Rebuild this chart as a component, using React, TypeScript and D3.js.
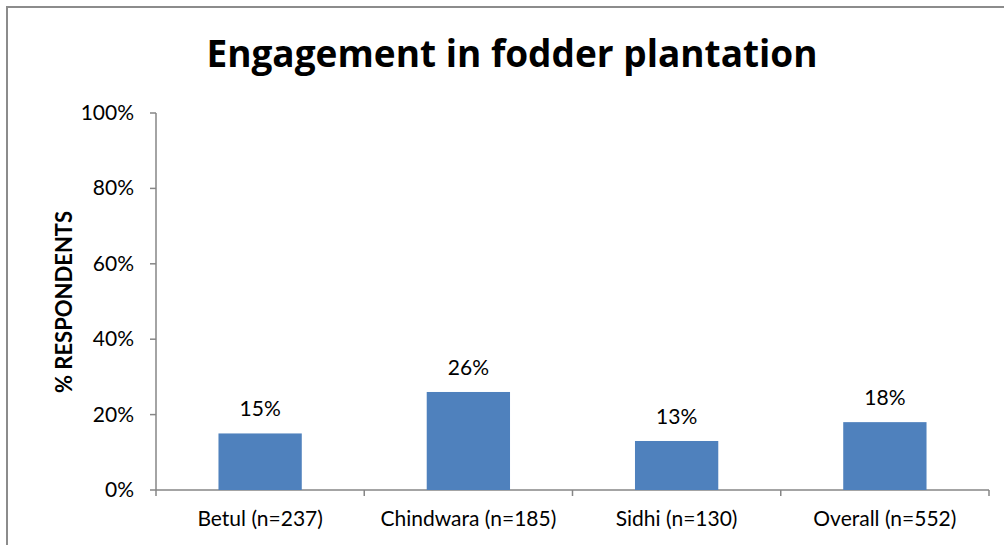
import React from "react";
import * as d3 from "d3";

const categories = ["Betul (n=237)", "Chindwara (n=185)", "Sidhi (n=130)", "Overall (n=552)"];
const values = [0.15, 0.26, 0.13, 0.18];
const valueLabels = ["15%", "26%", "13%", "18%"];
const yTicks = [0, 0.2, 0.4, 0.6, 0.8, 1.0];
const title = "Engagement in fodder plantation";
const yTitle = "% RESPONDENTS";

const W = 1004, H = 545;
const left = 156, right = 989, top = 113, bottom = 490;
const FONT = "Lato, 'Open Sans', sans-serif";

export default function App() {
  const x = d3.scaleBand<string>().domain(categories).range([left, right]).paddingInner(0.6).paddingOuter(0.3);
  const xb = d3.scaleBand<string>().domain(categories).range([left, right]);
  const y = d3.scaleLinear().domain([0, 1]).range([bottom, top]);
  const fmt = d3.format(".0%");
  return (
    <svg width={W} height={H} style={{ position: "absolute", left: 0, top: 0, background: "#fff", fontVariantLigatures: "none" }} fontFamily={FONT}>
      <rect x={7} y={7} width={W + 20} height={H + 20} fill="none" stroke="#8c8c8c" strokeWidth={2} />
      <text x={512} y={67} textAnchor="middle" fontSize={37} fontWeight="bold" fill="#000" fontFamily="'Open Sans', sans-serif">{title}</text>
      <text transform={`translate(72,302) rotate(-90)`} textAnchor="middle" fontSize={22} fontWeight="bold" fill="#000">{yTitle}</text>
      {/* y axis */}
      <line x1={left} x2={left} y1={top} y2={bottom} stroke="#868686" strokeWidth={1.5} />
      {yTicks.map((t) => (
        <g key={t}>
          <line x1={left - 6} x2={left} y1={y(t)} y2={y(t)} stroke="#868686" strokeWidth={1.5} />
          <text x={134} y={y(t) + 7} textAnchor="end" fontSize={21} fill="#000">{fmt(t)}</text>
        </g>
      ))}
      {/* x axis */}
      <line x1={left} x2={right} y1={bottom} y2={bottom} stroke="#868686" strokeWidth={1.5} />
      {[...categories.map((c) => xb(c) as number), right].map((px, i) => (
        <line key={i} x1={px} x2={px} y1={bottom} y2={bottom + 6} stroke="#868686" strokeWidth={1.5} />
      ))}
      {categories.map((c, i) => (
        <g key={c}>
          <rect x={x(c)} y={y(values[i])} width={x.bandwidth()} height={bottom - y(values[i])} fill="#4f81bd" />
          <text x={(x(c) as number) + x.bandwidth() / 2} y={y(values[i]) - 17} textAnchor="middle" fontSize={21} fill="#000">{valueLabels[i]}</text>
          <text x={(xb(c) as number) + xb.bandwidth() / 2} y={526} textAnchor="middle" fontSize={21} fill="#000">{c}</text>
        </g>
      ))}
    </svg>
  );
}
